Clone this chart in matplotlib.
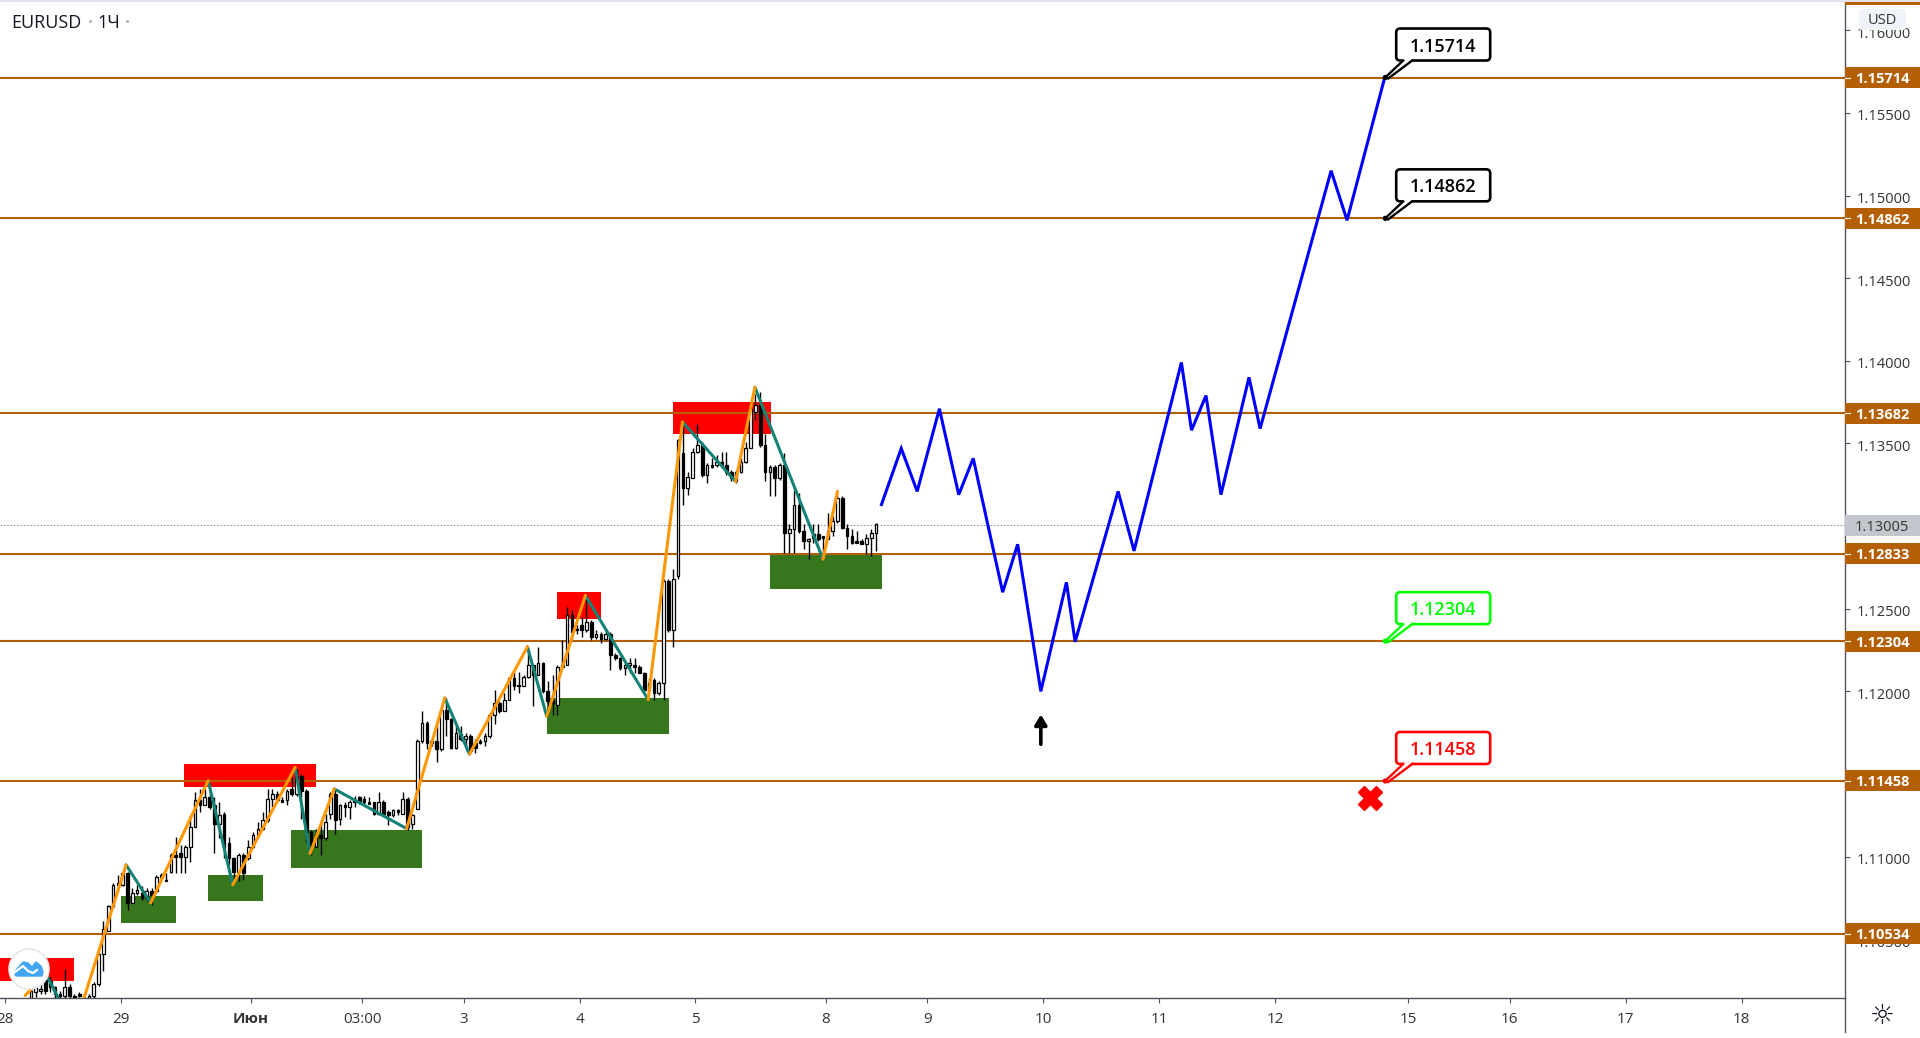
import numpy as np
import matplotlib
matplotlib.use("Agg")
import matplotlib.pyplot as plt
from matplotlib.patches import Circle, FancyBboxPatch, Polygon, Rectangle
from matplotlib.transforms import Affine2D, IdentityTransform

# candles, in 0.0001 above 1.0, first bar is number 6 on the hourly axis
first_bar = 6
opens = [1014, 1018, 1019, 1026, 1025, 1021, 1017, 1016, 1021, 1016,
         1017, 1015, 1014, 1016, 1023, 1041, 1055, 1070, 1084, 1083,
         1090, 1072, 1078, 1078, 1075, 1079, 1079, 1088, 1086, 1091,
         1101, 1102, 1100, 1106, 1118, 1134, 1131, 1136, 1131, 1120,
         1126, 1108, 1099, 1091, 1101, 1099, 1106, 1113, 1117, 1122,
         1135, 1138, 1134, 1134, 1141, 1138, 1149, 1140, 1115, 1106,
         1113, 1111, 1126, 1138, 1123, 1131, 1130, 1134, 1136, 1135,
         1133, 1133, 1126, 1133, 1127, 1125, 1128, 1126, 1135, 1120,
         1129, 1170, 1181, 1170, 1170, 1165, 1189, 1183, 1166, 1174,
         1171, 1173, 1169, 1170, 1170, 1173, 1186, 1193, 1188, 1195,
         1208, 1204, 1203, 1209, 1216, 1210, 1217, 1200, 1194, 1192,
         1215, 1216, 1246, 1238, 1240, 1237, 1242, 1233, 1235, 1232,
         1235, 1222, 1220, 1214, 1216, 1216, 1215, 1211, 1201, 1207,
         1199, 1205, 1267, 1237, 1270, 1344, 1323, 1329, 1345, 1349,
         1331, 1337, 1337, 1339, 1337, 1333, 1327, 1333, 1339, 1347,
         1369, 1373, 1349, 1333, 1336, 1329, 1337, 1296, 1298, 1313,
         1297, 1291, 1295, 1295, 1294, 1292, 1297, 1303, 1317, 1299,
         1294, 1291, 1291, 1289, 1293, 1296]
highs = [1021, 1023, 1023, 1028, 1027, 1022, 1019, 1032, 1023, 1017,
         1018, 1017, 1017, 1024, 1042, 1061, 1071, 1084, 1089, 1091,
         1091, 1081, 1083, 1082, 1081, 1081, 1089, 1090, 1090, 1102,
         1112, 1107, 1107, 1125, 1139, 1141, 1141, 1141, 1136, 1133,
         1127, 1112, 1100, 1102, 1102, 1110, 1115, 1121, 1127, 1141,
         1141, 1140, 1136, 1141, 1148, 1153, 1150, 1141, 1116, 1117,
         1122, 1126, 1139, 1141, 1132, 1133, 1134, 1137, 1137, 1137,
         1136, 1133, 1139, 1134, 1128, 1129, 1129, 1139, 1136, 1126,
         1171, 1188, 1182, 1171, 1179, 1190, 1196, 1184, 1180, 1179,
         1175, 1174, 1171, 1171, 1175, 1187, 1201, 1194, 1199, 1209,
         1212, 1212, 1210, 1227, 1216, 1227, 1218, 1206, 1210, 1216,
         1231, 1251, 1249, 1240, 1245, 1257, 1243, 1237, 1236, 1237,
         1236, 1223, 1221, 1217, 1220, 1220, 1216, 1212, 1208, 1208,
         1206, 1268, 1268, 1274, 1353, 1363, 1333, 1347, 1362, 1351,
         1338, 1341, 1343, 1345, 1345, 1334, 1334, 1341, 1351, 1372,
         1380, 1381, 1356, 1337, 1337, 1338, 1344, 1301, 1322, 1320,
         1301, 1293, 1301, 1301, 1294, 1308, 1306, 1320, 1318, 1301,
         1298, 1297, 1292, 1295, 1298, 1302]
lows = [1012, 1015, 1017, 1017, 1018, 1014, 1013, 1014, 1012, 1012,
        1015, 1012, 1013, 1014, 1022, 1031, 1055, 1069, 1079, 1082,
        1068, 1072, 1077, 1074, 1073, 1071, 1078, 1087, 1085, 1090,
        1090, 1090, 1090, 1097, 1118, 1127, 1131, 1129, 1102, 1111,
        1099, 1095, 1086, 1085, 1086, 1098, 1105, 1112, 1116, 1121,
        1130, 1133, 1133, 1131, 1137, 1137, 1123, 1109, 1101, 1106,
        1101, 1110, 1123, 1114, 1119, 1124, 1123, 1130, 1132, 1132,
        1132, 1125, 1125, 1125, 1119, 1124, 1125, 1126, 1116, 1117,
        1129, 1169, 1165, 1167, 1157, 1164, 1173, 1165, 1165, 1170,
        1165, 1162, 1163, 1168, 1167, 1172, 1180, 1187, 1188, 1195,
        1201, 1199, 1203, 1208, 1191, 1210, 1199, 1186, 1186, 1186,
        1214, 1216, 1232, 1235, 1233, 1236, 1231, 1232, 1229, 1231,
        1213, 1219, 1213, 1210, 1211, 1211, 1211, 1200, 1200, 1195,
        1198, 1195, 1236, 1227, 1268, 1313, 1319, 1329, 1344, 1330,
        1326, 1335, 1336, 1336, 1331, 1327, 1326, 1332, 1338, 1347,
        1364, 1348, 1327, 1318, 1318, 1328, 1284, 1284, 1284, 1296,
        1286, 1280, 1290, 1291, 1280, 1292, 1294, 1302, 1298, 1286,
        1289, 1290, 1289, 1283, 1282, 1285]
closes = [1019, 1021, 1020, 1019, 1021, 1017, 1016, 1021, 1016, 1014,
          1016, 1014, 1016, 1023, 1041, 1056, 1070, 1083, 1083, 1090,
          1072, 1078, 1080, 1075, 1079, 1077, 1088, 1089, 1085, 1101,
          1100, 1100, 1106, 1118, 1134, 1131, 1136, 1130, 1120, 1125,
          1105, 1099, 1091, 1101, 1090, 1106, 1113, 1117, 1122, 1135,
          1138, 1134, 1133, 1140, 1138, 1149, 1140, 1115, 1106, 1114,
          1111, 1121, 1138, 1122, 1131, 1130, 1133, 1133, 1133, 1133,
          1132, 1126, 1133, 1126, 1125, 1128, 1127, 1135, 1118, 1125,
          1170, 1181, 1169, 1169, 1165, 1189, 1183, 1166, 1175, 1171,
          1173, 1164, 1166, 1169, 1173, 1186, 1193, 1188, 1195, 1208,
          1203, 1203, 1209, 1216, 1210, 1217, 1200, 1194, 1193, 1215,
          1216, 1246, 1236, 1237, 1237, 1242, 1233, 1235, 1232, 1235,
          1222, 1220, 1214, 1216, 1217, 1215, 1211, 1201, 1205, 1199,
          1205, 1267, 1237, 1268, 1352, 1323, 1330, 1345, 1349, 1331,
          1337, 1336, 1339, 1337, 1333, 1329, 1333, 1339, 1347, 1371,
          1373, 1349, 1333, 1336, 1329, 1337, 1296, 1298, 1313, 1297,
          1291, 1292, 1293, 1292, 1293, 1297, 1303, 1317, 1299, 1294,
          1290, 1290, 1289, 1293, 1296, 1301]

# zigzag pivots, legs alternate orange up and teal down
zig_x = [5.2, 9.5, 15.4, 26.1, 31.2, 43.1, 48.2, 61.1, 64.2, 69.2, 84.2, 92.1,
         97.2, 109.2, 113.2, 121.2, 134.2, 141.3, 152.3, 156.3, 170.4, 173.4]
zig_p = [1016, 1029, 996, 1095, 1072, 1146, 1083, 1154, 1102, 1141, 1117, 1196,
         1162, 1227, 1185, 1258, 1195, 1363, 1327, 1384, 1280, 1321]

# hand drawn forecast
blue_x = [182.5, 186.6, 189.9, 194.5, 198.5, 201.5, 207.6, 210.7, 215.5, 220.8, 222.6,
          231.5, 234.8, 244.6, 246.7, 249.7, 252.8, 258.6, 260.9, 275.6, 278.9, 286.7]
blue_p = [1313, 1347, 1321, 1371, 1319, 1341, 1260, 1289, 1200, 1266, 1230,
          1321, 1285, 1399, 1358, 1379, 1319, 1390, 1359, 1515, 1485, 1571.4]

# zones: x start, x end, price top, price bottom
red_zones = [(0, 15.3, 1039, 1025), (38.1, 65.4, 1156, 1142),
             (115.3, 124.4, 1260, 1244), (139.3, 159.6, 1375, 1356)]
green_zones = [(25, 36.4, 1076, 1060), (43.1, 54.5, 1089, 1073), (60.2, 87.4, 1116, 1093),
               (113.3, 138.5, 1196, 1174), (159.4, 182.6, 1284, 1262)]

levels = [1.15714, 1.14862, 1.13682, 1.12833, 1.12304, 1.11458, 1.10534]
last_price = 1.13005
callout_bar = 286.8
callouts = [(1.15714, "black"), (1.14862, "black"), (1.12304, "#00FF00"), (1.11458, "#FF0000")]

price_ticks = [1.105, 1.11, 1.115, 1.12, 1.125, 1.13, 1.135, 1.14, 1.145, 1.15, 1.155, 1.16]
time_ticks = [1, 25, 52, 75, 96, 120, 144, 171, 192, 216, 240, 264, 291.5, 312.6, 336.6, 360.6]
time_labels = ["28", "29", "Июн", "03:00", "3", "4", "5", "8", "9", "10", "11", "12",
               "15", "16", "17", "18"]

LEVEL = "#B45F06"
TEXT = "#333333"
AXIS = "#50535E"
FONT = "Open Sans"


def price(values):
    return 1 + np.asarray(values, dtype=float) / 1e4


plt.rcParams["font.family"] = [FONT, "DejaVu Sans"]
fig = plt.figure(figsize=(19.2, 10.38), dpi=100)
ax = fig.add_axes([0, 40 / 1038, 1845 / 1920, 998 / 1038])
ax.set_xlim(0, 382)
ax.set_ylim(1.10145, 1.16183)

for spine in ["top", "left"]:
    ax.spines[spine].set_visible(False)
for spine in ["right", "bottom"]:
    ax.spines[spine].set_color(AXIS)
    ax.spines[spine].set_linewidth(1.0)

ax.yaxis.tick_right()
ax.set_yticks(price_ticks, [f"{p:.5f}" for p in price_ticks])
ax.set_xticks(time_ticks, time_labels)
ax.tick_params(axis="y", length=3.6, width=0.8, color=AXIS, labelcolor=TEXT, labelsize=10.5, pad=5)
ax.tick_params(axis="x", length=3.6, width=0.8, color=AXIS, labelcolor=TEXT, labelsize=11, pad=6.5)
for label in ax.get_yticklabels():
    label.set_verticalalignment("center_baseline")
    label.set_transform(label.get_transform() + Affine2D().translate(0, -2))
for label in ax.get_xticklabels():
    if label.get_text() == "Июн":
        label.set_fontweight("bold")

# price scale line runs on below the time axis
ax.plot([1, 1], [0, -34 / 998], color=AXIS, lw=1.0, transform=ax.transAxes, clip_on=False)

for x0, x1, top, bottom in red_zones:
    ax.add_patch(Rectangle((x0, price(top)), x1 - x0, price(bottom) - price(top),
                           color="#FF0000", lw=0, zorder=1))
for x0, x1, top, bottom in green_zones:
    ax.add_patch(Rectangle((x0, price(top)), x1 - x0, price(bottom) - price(top),
                           color="#38761D", lw=0, zorder=1))

for level in levels:
    ax.axhline(level, color=LEVEL, lw=1.5, zorder=2)
ax.axhline(last_price, color="#9598A1", lw=0.8, ls=(0, (1.5, 1.5)), zorder=2)

# candles
o, h, l, c = price(opens), price(highs), price(lows), price(closes)
bars = np.arange(first_bar, first_bar + len(opens)) + 0.4
up = c >= o
ax.vlines(bars, l, h, color="black", lw=1.0, zorder=3)
ax.bar(bars[up], (c - o)[up], bottom=o[up], width=0.55, facecolor="white", edgecolor="black",
       linewidth=0.9, zorder=3.1)
ax.bar(bars[~up], (c - o)[~up], bottom=o[~up], width=0.55, facecolor="black", edgecolor="black",
       linewidth=0.9, zorder=3.1)

# zigzag
zp = price(zig_p)
for i in range(len(zig_x) - 1):
    rising = zp[i + 1] > zp[i]
    ax.plot(zig_x[i:i + 2], zp[i:i + 2], color="#FF9800" if rising else "#138276", lw=2.2,
            solid_capstyle="round", zorder=4 if rising else 3.9)

ax.plot(blue_x, price(blue_p), color="#0000FF", lw=2.2, solid_joinstyle="miter", zorder=4)

# marks on the forecast
ax.annotate("", xy=(215.5, 1.1186), xytext=(215.5, 1.1168),
            arrowprops=dict(arrowstyle="-|>,head_length=0.6,head_width=0.36", color="black",
                            lw=2.6, shrinkA=0, shrinkB=0), zorder=5)
ax.plot([283.7], [1.11358], marker="X", ms=17, color="#FF0000", mec="#FF0000", zorder=5)

# price labels on the scale
ytrans = ax.get_yaxis_transform()
label_w = 75 / 1845
label_h = 21 / 998 * (1.16183 - 1.10145)
for level in levels:
    ax.add_patch(Rectangle((1, level - label_h / 2), label_w, label_h, color=LEVEL, lw=0,
                           transform=ytrans, clip_on=False, zorder=6))
    ax.plot([1, 1 + 5 / 1845], [level, level], color="white", lw=0.8, transform=ytrans,
            clip_on=False, zorder=6.5)
    ax.text(1 + 37 / 1845, level, f"{level:.5f}", color="white", fontsize=10.5, fontweight="bold",
            ha="center", va="center_baseline", transform=ytrans, clip_on=False, zorder=7)
ax.add_patch(Rectangle((1, last_price - label_h / 2), label_w, label_h, color="#C4C6CE", lw=0,
                       transform=ytrans, clip_on=False, zorder=6))
ax.text(1 + 37 / 1845, last_price, f"{last_price:.5f}", color=TEXT, fontsize=10.5, ha="center",
        va="center_baseline", transform=ytrans, clip_on=False, zorder=7)
# level above the view, only its label edge shows
ax.add_patch(Rectangle((1, 1.1615), label_w, 0.001, color=LEVEL, lw=0, transform=ytrans,
                       clip_on=False, zorder=6))

# callouts, box and tail are laid out in pixels from the anchor
fig.canvas.draw()
for value, color in callouts:
    ax_x, ax_y = ax.transData.transform((callout_bar, value))
    tr = Affine2D().translate(ax_x, ax_y)
    box = FancyBboxPatch((11, 17), 94, 32, boxstyle="round,pad=0,rounding_size=4", fc="white",
                         ec=color, lw=1.9, transform=tr, clip_on=False, zorder=8)
    fig.add_artist(box)
    fig.add_artist(Polygon([(1, 0), (18, 18.5), (27, 18.5), (3, -1)], closed=True, fc="white", ec="none",
                           transform=tr, zorder=8.1))
    for tail in ([(0, 0), (18, 17)], [(3, -1), (27, 17)]):
        fig.add_artist(plt.Line2D(*zip(*tail), color=color, lw=1.7, transform=tr, zorder=8.2))
    fig.add_artist(Circle((0, 0), 2.6, fc=color, ec="none", transform=tr, zorder=8.3))
    fig.text(ax_x + 58, ax_y + 33, f"{value:.5f}", color=color, fontsize=13, fontweight="semibold",
             ha="center", va="center_baseline", transform=IdentityTransform(), zorder=8.4)

# chart header
px = IdentityTransform()
fig.add_artist(Rectangle((0, 1036.5), 1920, 1.5, fc="#E0E3EB", ec="none", transform=px, zorder=0.5))
fig.text(11, 1038 - 23, "EURUSD", fontsize=13, color="#131722", va="center", transform=px)
fig.text(88, 1038 - 23, "·", fontsize=13, color="#B2B5BE", va="center", transform=px, fontweight="bold")
fig.text(97, 1038 - 23, "1Ч", fontsize=13, color="#131722", va="center", transform=px)
fig.text(125, 1038 - 23, "·", fontsize=13, color="#B2B5BE", va="center", transform=px, fontweight="bold")

# currency button
fig.add_artist(FancyBboxPatch((1859, 1038 - 30), 47, 21, boxstyle="round,pad=0,rounding_size=3",
                              fc="#F0F3FA", ec="none", transform=px, zorder=9))
fig.text(1882.5, 1038 - 20, "USD", fontsize=10.5, color=TEXT, ha="center", va="center", transform=px, zorder=10)

# settings glyph
fig.text(1882, 1038 - 1016, "\u263c", family="DejaVu Sans", fontsize=20, color="#131722", ha="center",
         va="center", transform=px, zorder=10)

# logo
logo_x, logo_y = 29, 1038 - 969
fig.add_artist(Circle((logo_x, logo_y), 20, fc="white", ec="#E6E6E6", lw=1.2, transform=px, zorder=9))
cloud = Polygon([(logo_x - 14, logo_y - 6), (logo_x - 13, logo_y - 1), (logo_x - 6, logo_y + 7),
                 (logo_x - 1, logo_y + 6), (logo_x + 3, logo_y + 2), (logo_x + 7, logo_y + 7),
                 (logo_x + 12, logo_y + 3), (logo_x + 14, logo_y - 3), (logo_x + 13, logo_y - 7),
                 (logo_x - 12, logo_y - 7)], closed=True, fc="#42A5F5", ec="#42A5F5", lw=1,
                joinstyle="round", transform=px, zorder=9.1)
fig.add_artist(cloud)
fig.add_artist(plt.Line2D([logo_x - 14, logo_x - 6, logo_x - 1, logo_x + 4, logo_x + 8],
                          [logo_y - 3, logo_y + 3, logo_y - 2, logo_y - 4, logo_y - 1],
                          color="white", lw=1.6, transform=px, zorder=9.2))

fig.savefig("out.png", dpi=100)
